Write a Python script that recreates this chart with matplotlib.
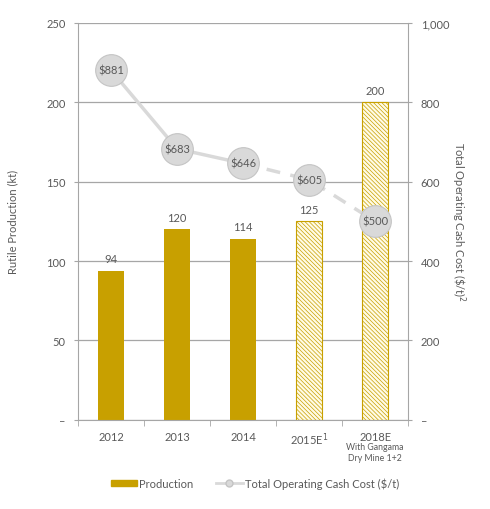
import matplotlib.pyplot as plt
import numpy as np

plt.rcParams['font.family'] = ['Lato', 'DejaVu Sans']
plt.rcParams['hatch.linewidth'] = 0.5

years = ["2012", "2013", "2014", "2015E$^1$", "2018E"]
production = [94, 120, 114, 125, 200]
forecast = [False, False, False, True, True]
cost = [881, 683, 646, 605, 500]
cost_labels = ["\\$881", "\\$683", "\\$646", "\\$605", "\\$500"]

gold = "#c8a000"
grey_text = "#595959"
axis_grey = "#a6a6a6"
fs = 8

fig = plt.figure(figsize=(4.9, 5.1), dpi=100)
ax = fig.add_axes([0.159, 0.175, 0.674, 0.778])
x = np.arange(len(years))

for i, (v, f) in enumerate(zip(production, forecast)):
    if f:
        ax.bar(x[i], v, width=0.4, color="#fffbe6", edgecolor=gold, hatch="\\\\\\\\\\\\\\\\", linewidth=0.8, zorder=2)
    else:
        ax.bar(x[i], v, width=0.4, color=gold, zorder=2)
    ax.text(x[i], v + 4, str(v), ha="center", va="bottom", fontsize=fs, color=grey_text)

ax.set_xlim(-0.5, 4.5)
ax.set_ylim(0, 250)
ax.set_yticks([0, 50, 100, 150, 200, 250])
ax.set_yticklabels(["–", "50", "100", "150", "200", "250"])
ax.set_xticks(x)
ax.set_xticklabels(years)
ax.set_xticks(np.arange(-0.5, 5, 1), minor=True)
ax.tick_params(axis="x", which="major", length=0, pad=8, labelsize=fs, labelcolor=grey_text)
ax.tick_params(axis="x", which="minor", length=4, color=axis_grey, direction="out")
ax.tick_params(axis="y", length=3, color=axis_grey, labelsize=fs, labelcolor=grey_text, pad=6)
ax.grid(axis="y", color="#a6a6a6", linewidth=0.9, zorder=0)
ax.set_axisbelow(True)
for s in ["top", "right"]:
    ax.spines[s].set_visible(False)
for s in ["left", "bottom"]:
    ax.spines[s].set_color(axis_grey)
ax.set_ylabel("Rutile Production (kt)", fontsize=fs, color=grey_text, labelpad=20)
ax.text(x[4], -14, "With Gangama\nDry Mine 1+2", ha="center", va="top", fontsize=6.3,
        color=grey_text, linespacing=1.25)

ax2 = ax.twinx()
ax2.set_ylim(0, 1000)
ax2.set_yticks([0, 200, 400, 600, 800, 1000])
ax2.set_yticklabels(["–", "200", "400", "600", "800", "1,000"])
ax2.tick_params(axis="y", length=3, color=axis_grey, labelsize=fs, labelcolor=grey_text, pad=6)
for s in ["top", "left", "bottom"]:
    ax2.spines[s].set_visible(False)
ax2.spines["right"].set_color(axis_grey)
ax2.set_ylabel("Total Operating Cash Cost (\\$/t)$^2$", fontsize=fs, color=grey_text,
               rotation=270, labelpad=13)

line_c = "#d9d9d9"
ax2.plot(x[:3], cost[:3], color=line_c, linewidth=2.5, zorder=3)
ax2.plot(x[2:], cost[2:], color=line_c, linewidth=2.5, linestyle=(0, (4, 3)), zorder=3)
ax2.scatter(x, cost, s=520, color="#d9d9d9", edgecolor="#c4c4c4", linewidth=0.8, zorder=4)
for xi, c, lab in zip(x, cost, cost_labels):
    ax2.text(xi, c, lab, ha="center", va="center", fontsize=fs, color=grey_text, zorder=5)

h1 = plt.Rectangle((0, 0), 1, 1, color=gold)
h2, = ax.plot([], [], color=line_c, linewidth=2, marker="o", markersize=5,
              markerfacecolor="#d9d9d9", markeredgecolor="#c4c4c4")
fig.legend([h1, h2], ["Production", "Total Operating Cash Cost (\\$/t)"], loc="center",
           bbox_to_anchor=(0.52, 0.051), ncol=2, frameon=False, fontsize=8,
           labelcolor=grey_text, handlelength=2.4, handleheight=0.5, handletextpad=0.2,
           columnspacing=2.0)

fig.savefig("out.png", dpi=100)
